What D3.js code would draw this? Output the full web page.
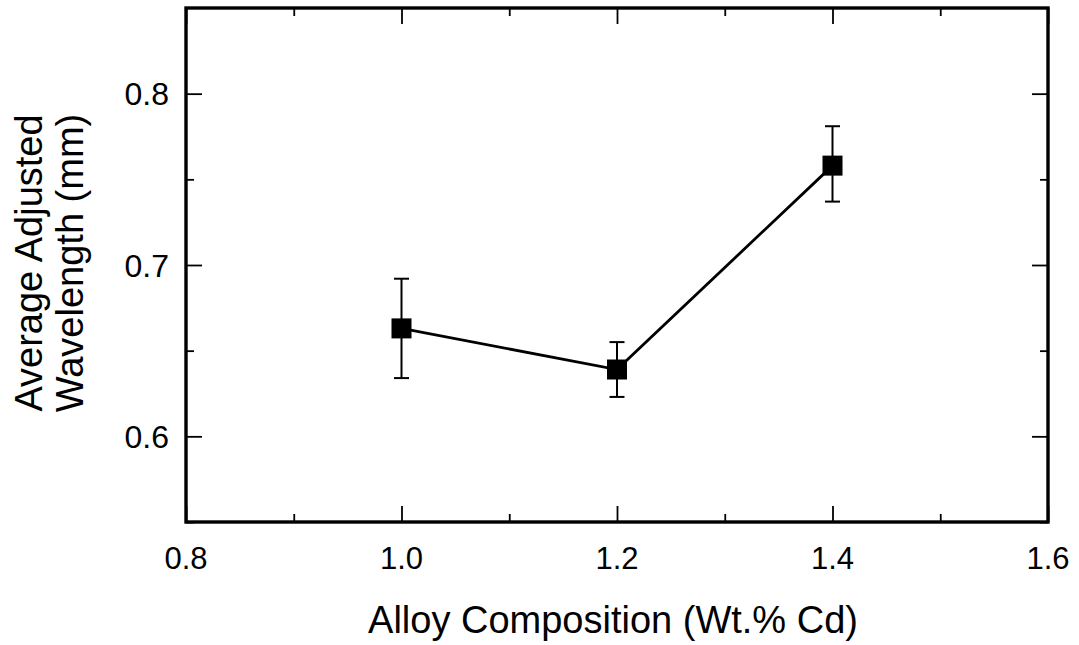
<!DOCTYPE html>
<html>
<head>
<meta charset="utf-8">
<script src="https://cdn.jsdelivr.net/npm/d3@7"></script>
<style>
  html, body { margin: 0; padding: 0; background: #fff; }
  svg { display: block; }
  text { font-family: "Liberation Sans", Arial, sans-serif; fill: #000; }
</style>
</head>
<body>
<svg id="chart" width="1079" height="645"></svg>
<script>
// Alloy composition (wt.% Cd) vs. average adjusted wavelength (mm)
const composition = [1.0, 1.2, 1.4];
const wavelength  = [0.663, 0.639, 0.758];
const errLow      = [0.634, 0.623, 0.737];
const errHigh     = [0.692, 0.655, 0.781];

const xMajorTicks = [0.8, 1.0, 1.2, 1.4, 1.6];
const xMinorTicks = [0.9, 1.1, 1.3, 1.5];
const yMajorTicks = [0.6, 0.7, 0.8];
const yMinorTicks = [0.55, 0.65, 0.75];

const xTitle = "Alloy Composition (Wt.% Cd)";
const yTitleLines = ["Average Adjusted", "Wavelength (mm)"];

const W = 1079, H = 645;
const m = { left: 186, right: W - 1048, top: 8, bottom: H - 522 };
const iw = W - m.left - m.right, ih = H - m.top - m.bottom;

const svg = d3.select("#chart");
const g = svg.append("g").attr("transform", `translate(${m.left},${m.top})`);

const x = d3.scaleLinear().domain([0.8, 1.6]).range([0, iw]);
const y = d3.scaleLinear().domain([0.55, 0.85]).range([ih, 0]);

const majorLen = 16, minorLen = 8;

// Inward ticks on all four sides
function tickAxis(axisGen, ticks, len, transform) {
  const a = g.append("g").attr("transform", transform)
    .call(axisGen.tickValues(ticks).tickSize(-len).tickSizeOuter(0).tickFormat(""));
  a.select(".domain").remove();
  a.selectAll("line").attr("stroke", "#000").attr("stroke-width", 1.8);
  return a;
}
tickAxis(d3.axisBottom(x), xMajorTicks, majorLen, `translate(0,${ih})`);
tickAxis(d3.axisBottom(x), xMinorTicks, minorLen, `translate(0,${ih})`);
tickAxis(d3.axisTop(x), xMajorTicks, majorLen, `translate(0,0)`);
tickAxis(d3.axisTop(x), xMinorTicks, minorLen, `translate(0,0)`);
tickAxis(d3.axisLeft(y), yMajorTicks, majorLen, `translate(0,0)`);
tickAxis(d3.axisLeft(y), yMinorTicks, minorLen, `translate(0,0)`);
tickAxis(d3.axisRight(y), yMajorTicks, majorLen, `translate(${iw},0)`);
tickAxis(d3.axisRight(y), yMinorTicks, minorLen, `translate(${iw},0)`);

// Tick labels
g.append("g").selectAll("text").data(xMajorTicks).join("text")
  .attr("x", d => x(d)).attr("y", ih + 47)
  .attr("text-anchor", "middle").attr("font-size", 31)
  .text(d => d3.format(".1f")(d));
g.append("g").selectAll("text").data(yMajorTicks).join("text")
  .attr("x", -17).attr("y", d => y(d) + 11.5)
  .attr("text-anchor", "end").attr("font-size", 32)
  .text(d => d3.format(".1f")(d));

// Frame
g.append("rect").attr("x", 0).attr("y", 0).attr("width", iw).attr("height", ih)
  .attr("fill", "none").attr("stroke", "#000").attr("stroke-width", 3.4);

// Axis titles
svg.append("text").attr("x", m.left + x(1.2) - 4).attr("y", 633)
  .attr("text-anchor", "middle").attr("font-size", 38).text(xTitle);
const yt = svg.append("text").attr("transform", "translate(0,263) rotate(-90)")
  .attr("text-anchor", "middle").attr("font-size", 38);
yt.selectAll("tspan").data(yTitleLines).join("tspan")
  .attr("x", 0).attr("y", (d, i) => 42 + i * 41).text(d => d);

// Error bars
const pts = composition.map((c, i) => ({ c, v: wavelength[i], lo: errLow[i], hi: errHigh[i] }));
const capW = 15;
const eb = g.append("g").attr("stroke", "#000").attr("stroke-width", 2);
eb.selectAll("line.v").data(pts).join("line").attr("class", "v")
  .attr("x1", d => x(d.c)).attr("x2", d => x(d.c))
  .attr("y1", d => y(d.lo)).attr("y2", d => y(d.hi));
eb.selectAll("line.t").data(pts).join("line").attr("class", "t")
  .attr("x1", d => x(d.c) - capW / 2).attr("x2", d => x(d.c) + capW / 2)
  .attr("y1", d => y(d.hi)).attr("y2", d => y(d.hi));
eb.selectAll("line.b").data(pts).join("line").attr("class", "b")
  .attr("x1", d => x(d.c) - capW / 2).attr("x2", d => x(d.c) + capW / 2)
  .attr("y1", d => y(d.lo)).attr("y2", d => y(d.lo));

// Connecting line
g.append("path").datum(pts)
  .attr("fill", "none").attr("stroke", "#000").attr("stroke-width", 2.8)
  .attr("d", d3.line().x(d => x(d.c)).y(d => y(d.v)));

// Square markers
const sq = 20;
g.append("g").selectAll("rect").data(pts).join("rect")
  .attr("x", d => x(d.c) - sq / 2).attr("y", d => y(d.v) - sq / 2)
  .attr("width", sq).attr("height", sq).attr("fill", "#000");
</script>
</body>
</html>
